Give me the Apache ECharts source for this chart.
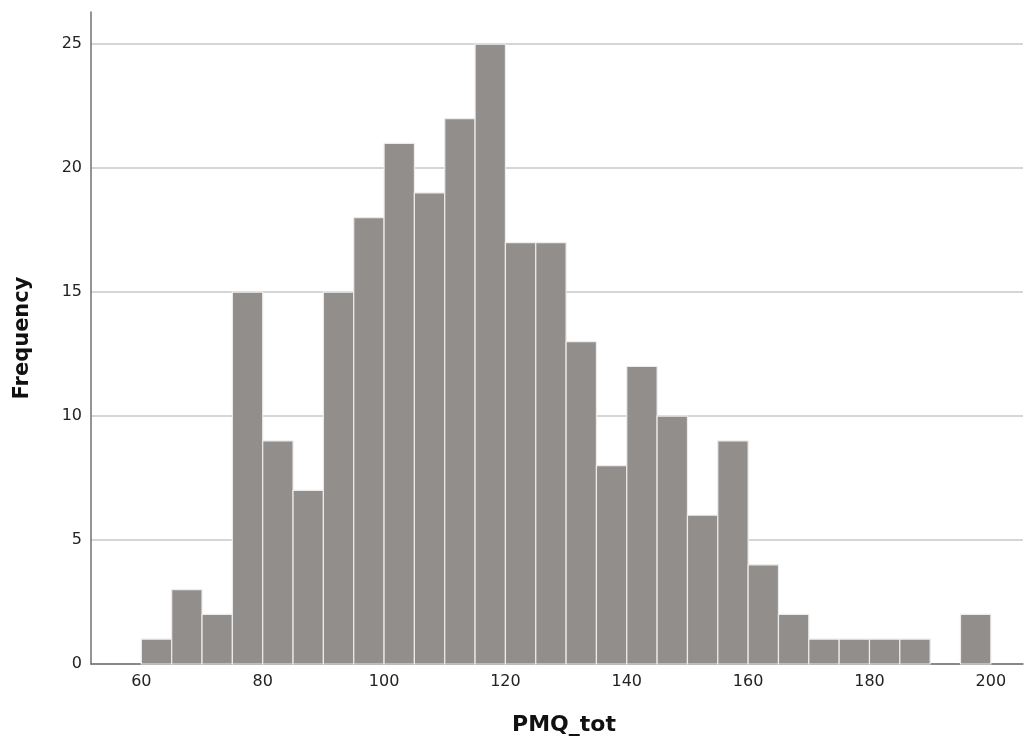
<!DOCTYPE html>
<html>
<head>
<meta charset="utf-8">
<script src="https://cdn.jsdelivr.net/npm/echarts@6/dist/echarts.min.js"></script>
<style>
html,body{margin:0;padding:0;background:#fff;}
#chart{width:1025px;height:742px;}
</style>
</head>
<body>
<div id="chart"></div>
<script>
// Histogram of PMQ_tot, bins of width 5
const binStarts = [60,65,70,75,80,85,90,95,100,105,110,115,120,125,130,135,140,145,150,155,160,165,170,175,180,185,190,195];
const counts    = [1,3,2,15,9,7,15,18,21,19,22,25,17,17,13,8,12,10,6,9,4,2,1,1,1,1,0,2];
const binWidth = 5;
const xTicks = [60,80,100,120,140,160,180,200];
const yTicks = [0,5,10,15,20,25];

const data = binStarts.map((s, i) => [s, s + binWidth, counts[i]]);

const chart = echarts.init(document.getElementById('chart'));
chart.setOption({
  animation: false,
  grid: { left: 91, right: 2, top: 12, bottom: 78 },
  xAxis: {
    type: 'value',
    min: 51.7, max: 205.3,
    name: 'PMQ_tot',
    nameLocation: 'middle',
    nameGap: 50,
    nameTextStyle: { fontFamily: 'DejaVu Sans', fontSize: 22, fontWeight: 'bold', color: '#111', padding: [0, 0, 0, 14] },
    axisLine: { lineStyle: { color: '#707070', width: 1.5 } },
    axisTick: { show: false, customValues: xTicks },
    splitLine: { show: false },
    axisLabel: {
      fontFamily: 'DejaVu Sans', fontSize: 16, color: '#222', margin: 10,
      customValues: xTicks
    }
  },
  yAxis: {
    type: 'value',
    min: 0, max: 26.3,
    name: 'Frequency',
    nameLocation: 'middle',
    nameGap: 58,
    nameTextStyle: { fontFamily: 'DejaVu Sans', fontSize: 21, fontWeight: 'bold', color: '#111' },
    axisLine: { show: true, lineStyle: { color: '#707070', width: 1.5 } },
    axisTick: { show: false, customValues: yTicks },
    splitLine: { lineStyle: { color: '#c8c8c8', width: 1.5 } },
    axisLabel: {
      fontFamily: 'DejaVu Sans', fontSize: 16, color: '#222', margin: 9,
      customValues: yTicks
    }
  },
  series: [{
    type: 'custom',
    data: data,
    encode: { x: [0, 1], y: 2 },
    renderItem: function (params, api) {
      if (api.value(2) <= 0) return null;
      const p0 = api.coord([api.value(0), 0]);
      const p1 = api.coord([api.value(1), api.value(2)]);
      return {
        type: 'rect',
        shape: { x: p0[0], y: p1[1], width: p1[0] - p0[0], height: p0[1] - p1[1] },
        style: { fill: '#928e8c', stroke: '#ececec', lineWidth: 1.2 }
      };
    }
  }]
});
</script>
</body>
</html>
